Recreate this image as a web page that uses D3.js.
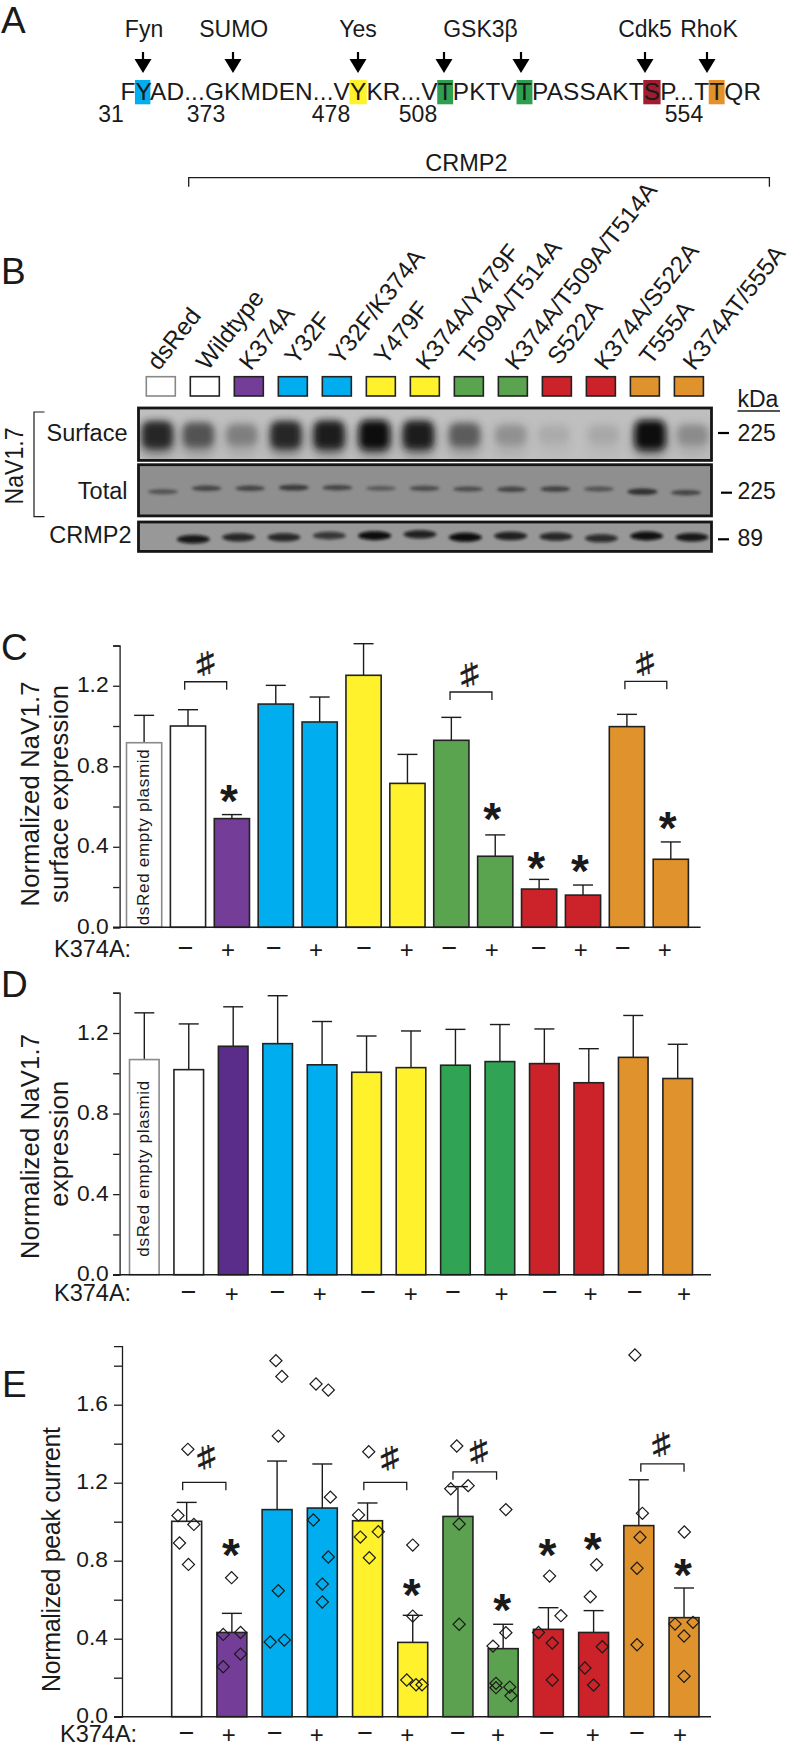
<!DOCTYPE html>
<html><head><meta charset="utf-8">
<script src="https://cdnjs.cloudflare.com/ajax/libs/d3/7.8.5/d3.min.js"></script>
<style>
html,body{margin:0;padding:0;background:#fff}
svg{display:block}
text{font-family:"Liberation Sans",Arial,sans-serif;fill:#1a1a1a}
</style></head><body>
<svg id="fig" width="793" height="1755" viewBox="0 0 793 1755"></svg>
<script>
// ---------- Data ----------
const constructLabels=["dsRed","Wildtype","K374A","Y32F","Y32F/K374A","Y479F","K374A/Y479F","T509A/T514A","K374A/T509A/T514A","S522A","K374A/S522A","T555A","K374AT/555A"];
const signs=["−","+","−","+","−","+","−","+","−","+","−","+"];
const swatchColors=["#fff","#fff","#743e98","#00aeef","#00aeef","#fff12b","#fff12b","#5ba44f","#5ba44f","#cc2229","#cc2229","#e0922c","#e0922c"];
const colorsC=["#fff","#fff","#743e98","#00aeef","#00aeef","#fff12b","#fff12b","#5ba44f","#5ba44f","#cc2229","#cc2229","#e0922c","#e0922c"];
const colorsD=["#fff","#fff","#5b2d8a","#00aeef","#00aeef","#fff12b","#fff12b","#31a354","#31a354","#cc2229","#cc2229","#e0922c","#e0922c"];
const colorsE=["#fff","#743e98","#00aeef","#00aeef","#fff12b","#fff12b","#5ba14f","#5ba14f","#cc2229","#cc2229","#e0922c","#e0922c"];

const valuesC=[0.917,1.0,0.54,1.109,1.02,1.252,0.715,0.929,0.353,0.19,0.16,0.997,0.338];
const errorsC=[1.053,1.081,0.56,1.202,1.144,1.409,0.859,1.043,0.459,0.238,0.21,1.058,0.424];
const valuesD=[1.068,1.018,1.134,1.147,1.042,1.005,1.028,1.04,1.058,1.048,0.953,1.079,0.974];
const errorsD=[1.30,1.245,1.33,1.385,1.257,1.185,1.21,1.218,1.242,1.22,1.122,1.287,1.144];
const valuesE=[1.002,0.432,1.062,1.07,1.005,0.381,1.027,0.349,0.448,0.432,0.98,0.508];
const errorsE=[1.099,0.53,1.311,1.296,1.096,0.52,1.18,0.474,0.559,0.544,1.215,0.66];

const pointValuesE=[
 [1.371,1.032,0.986,0.891,0.781],
 [0.713,0.422,0.432,0.321,0.256],
 [1.826,1.745,1.439,0.646,0.383,0.393],
 [1.706,1.675,1.126,1.009,0.819,0.680,0.588],
 [1.359,1.034,0.949,0.921,0.815],
 [0.880,0.516,0.188,0.164,0.164],
 [1.388,1.185,1.169,0.988,0.474],
 [1.062,0.431,0.362,0.171,0.149,0.152,0.108],
 [0.721,0.518,0.432,0.378,0.188],
 [0.779,0.615,0.359,0.25,0.162],
 [1.855,1.043,0.92,0.761,0.369],
 [0.947,0.475,0.484,0.414,0.207]];
const pointJitterE=[
 [.04,-.29,.24,-.24,.06],
 [-.01,-.29,.29,.29,-.29],
 [-.04,.16,.04,.04,-.23,.24],
 [-.21,.2,.27,-.3,.2,0,0],
 [.04,-.3,.36,-.24,.06],
 [0,0,-.2,.11,.31],
 [-.04,.34,-.24,.04,.04],
 [.09,.09,-.34,-.24,-.24,.22,.26],
 [.04,.42,-.33,.13,.13],
 [.1,-.11,.29,-.29,0],
 [-.13,.12,.04,-.06,-.06],
 [.01,-.3,.3,0,0]];

const starBarsC=[2,8,9,10,12], starValuesC=[.649,.563,.318,.305,.517];
const starBarsE=[1,5,7,8,9,11], starValuesE=[.851,.650,.573,.851,.885,.749];
const bracketBarsC=[1,7,11], bracketValuesC=[1.22,1.169,1.222], hashValuesC=[1.31,1.255,1.31];
const bracketBarsE=[0,4,6,10], bracketValuesE=[1.202,1.202,1.256,1.297], hashValuesE=[1.33,1.325,1.36,1.396];

const siteLabels=["Fyn","SUMO","Yes","GSK3β","Cdk5","RhoK"];
const sequence="FYAD...GKMDEN...VYKR...VTPKTVTPASSAKTSP...TTQR";
const highlightChars=[1,17,24,29,37,43];
const highlightColors=["#00aeef","#fff12b","#2e9e50","#2e9e50","#a01c2e","#e2912b"];
const residueNumbers=["31","373","478","508","554"];

const surfaceBands=[.85,.6,.35,.85,.92,1,.92,.55,.25,.1,.12,1,.28];
const totalBands=[.45,.55,.55,.62,.55,.4,.5,.5,.55,.58,.45,.7,.55];
const crmpBands=[0,.85,.75,.75,.65,.95,.8,.95,.8,.75,.72,.9,.85];
const surfaceDrift=[0,-3.6,-4.8,-5.3,-6.7,-6,-6.6,-5,-3.5,-5,0,2,0];
const totalDrift=[275,265,265,263,263,265,265,267,268,267,267,275,278];
const crmpDrift=[410,418,412,412,407,407,403,412,408,410,415,408,412];

// ---------- Helpers ----------
const svg=d3.select("#fig");
const ink="#1c1c1c";
function txt(g,x,y,s,size,anchor,extra){
  const t=g.append("text").attr("x",x).attr("y",y).attr("font-size",size).attr("text-anchor",anchor||"start").text(s);
  if(extra) extra(t); return t;
}
function rotTxt(g,x,y,s,size,len,adj){
  return g.append("text").attr("transform",`translate(${x},${y}) rotate(-90)`).attr("font-size",size).attr("text-anchor","middle")
    .attr("textLength",len).attr("lengthAdjust",adj||"spacing").text(s);
}
function line(g,x1,y1,x2,y2,w,c){
  return g.append("line").attr("x1",x1).attr("y1",y1).attr("x2",x2).attr("y2",y2).attr("stroke",c||ink).attr("stroke-width",w||1.3);
}
[["A",1,33],["B",1,284],["C",1,660],["D",1,997],["E",2,1397]].forEach(d=>txt(svg,d[1],d[2],d[0],37));

// ---------- Panel A ----------
const A=svg.append("g");
const siteX=[144,233.7,358,480.5,645,709];
siteLabels.forEach((s,i)=>txt(A,siteX[i],37,s,23,"middle"));
const arrowX=[143,233,358,444,521,645,707];
arrowX.forEach(x=>{
  line(A,x,52,x,62,2.2,"#000");
  A.append("path").attr("d",d3.line()([[x-8.5,59],[x+8.5,59],[x,73]])+"Z").attr("fill","#000");
});
const hiG=A.append("g");
const seq=txt(A,120.4,100,sequence,24.4).attr("textLength",640.6).attr("lengthAdjust","spacing");
highlightChars.forEach((c,i)=>{
  const e=seq.node().getExtentOfChar(c);
  hiG.append("rect").attr("x",e.x-.5).attr("width",e.width+1).attr("y",80).attr("height",24.3).attr("fill",highlightColors[i]);
});
[111,206,331,418,684].forEach((x,i)=>txt(A,x,121.7,residueNumbers[i],23,"middle"));
txt(A,466.4,170.7,"CRMP2",23.5,"middle");
A.append("path").attr("d","M188.7,186.7V177.7H769.4V186.7").attr("fill","none").attr("stroke",ink).attr("stroke-width",1.3);

// ---------- Panel B ----------
const B=svg.append("g");
const swatchX=d3.scalePoint().domain(d3.range(13)).range([160.8,688.9]);
const labelDx=[-2,3,2,3.3,4,5,2.6,1.6,4,2,5,6,5.5];
constructLabels.forEach((s,i)=>{
  const first=s[0];
  const yy=(first==="Y"||first==="T"||first==="S")?366:371.5;
  B.append("text").attr("transform",`translate(${swatchX(i)+labelDx[i]},${yy}) rotate(-52)`).attr("font-size",24.3).text(s);
  B.append("rect").attr("x",swatchX(i)-14.5).attr("y",376.7).attr("width",29).attr("height",19.3)
    .attr("fill",swatchColors[i]).attr("stroke",i===0?"#888":"#222").attr("stroke-width",1.6);
});
txt(B,737.5,406.5,"kDa",23);
line(B,737.5,411,780,411,1.4);

const defs=svg.append("defs");
[["blurL",3.6],["blurH",6],["blurS",1.5]].forEach(d=>defs.append("filter").attr("id",d[0]).attr("x","-50%").attr("y","-50%").attr("width","200%").attr("height","200%")
  .append("feGaussianBlur").attr("stdDeviation",d[1]));
function blot(id,y,h,bg){
  defs.append("clipPath").attr("id",id).append("rect").attr("x",138.5).attr("y",y).attr("width",573).attr("height",h);
  B.append("rect").attr("x",138.5).attr("y",y).attr("width",573).attr("height",h).attr("fill",bg);
  return B.append("g").attr("clip-path",`url(#${id})`);
}
function blotFrame(y,h){
  B.append("rect").attr("x",138.5).attr("y",y).attr("width",573).attr("height",h).attr("fill","none").attr("stroke","#161616").attr("stroke-width",2.8);
}
// surface
const laneS=d3.scalePoint().domain(d3.range(13)).range([157.3,692.7]);
const surfaceGray=d3.scaleLinear().domain([0,1]).range(["#bdbdbd","#0c0c0c"]);
let g=blot("cs",408,52.4,"#bfbfbf");
surfaceBands.forEach((d,i)=>{
  const cx=laneS(i)+surfaceDrift[i];
  g.append("rect").attr("x",cx-16).attr("width",32).attr("y",424).attr("height",32).attr("rx",8).attr("fill","#000").attr("opacity",d*.36).attr("filter","url(#blurH)");
  const h=16+13*d;
  g.append("rect").attr("x",cx-15).attr("width",30).attr("y",435-h/2).attr("height",h).attr("rx",7).attr("fill",surfaceGray(d)).attr("filter","url(#blurL)");
});
blotFrame(408,52.4);
// total
const laneT=d3.scalePoint().domain(d3.range(13)).range([163,686]);
g=blot("ct",464.7,51.2,"#8f8f8f");
totalBands.forEach((d,i)=>{
  g.append("ellipse").attr("cx",laneT(i)).attr("cy",400+totalDrift[i]/3).attr("rx",15).attr("ry",1.2+d*2.8).attr("fill","#1a1a1a").attr("opacity",d*1.2).attr("filter","url(#blurS)");
});
blotFrame(464.7,51.2);
// crmp2
const laneC=d3.scalePoint().domain(d3.range(13)).range([148,692]);
g=blot("cc",522,29.4,"#989898");
crmpBands.forEach((d,i)=>{
  if(!d) return;
  g.append("ellipse").attr("cx",laneC(i)).attr("cy",400+crmpDrift[i]/3).attr("rx",16.5).attr("ry",2.4+d*2.2).attr("fill","#0a0a0a").attr("opacity",Math.min(1,d*1.08)).attr("filter","url(#blurS)");
});
blotFrame(522,29.4);

rotTxt(B,22.5,466,"NaV1.7",26,77,"spacingAndGlyphs");
B.append("path").attr("d","M44.5,412H34V516.7H44.5").attr("fill","none").attr("stroke",ink).attr("stroke-width",1.2);
txt(B,127.5,440.7,"Surface",23.5,"end");
txt(B,127.5,499.3,"Total",23.5,"end");
txt(B,131.5,542.7,"CRMP2",23.5,"end");
[[718,729,433,737.5,440.7,"225"],[721,732,492.7,737.5,499.3,"225"],[718,729,539.3,737.5,546,"89"]].forEach(d=>{
  line(B,d[0],d[2],d[1],d[2],2.2,"#000");
  txt(B,d[3],d[4],d[5],23);
});

// ---------- Bar panels ----------
function panel(o){
  const G=svg.append("g");
  const x=d3.scaleBand().domain(d3.range(o.values.length)).range(o.xr).paddingInner(o.pad).paddingOuter(0);
  const y=d3.scaleLinear().domain([0,o.top]).range(o.yr);
  const cx=i=>x(i)+x.bandwidth()/2;
  o.values.forEach((v,i)=>{
    line(G,cx(i),y(v),cx(i),y(o.errors[i]),1.4);
    line(G,cx(i)-10,y(o.errors[i]),cx(i)+10,y(o.errors[i]),1.4);
  });
  G.selectAll("rect.bar").data(o.values).join("rect").attr("class","bar")
    .attr("x",(d,i)=>x(i)).attr("width",x.bandwidth())
    .attr("y",d=>y(d)).attr("height",d=>y(0)-y(d))
    .attr("fill",(d,i)=>o.colors[i])
    .attr("stroke",(d,i)=>(o.dsRed&&i===0)?"#8a8a8a":"#222").attr("stroke-width",1.6);
  const ax=d3.axisLeft(y).tickValues(o.ticks).tickSize(o.tickLen).tickPadding(o.tickPad).tickFormat(d=>(Math.round(d*10)%4===0)?d.toFixed(1):"");
  const axG=G.append("g").attr("transform",`translate(${o.axisX},0)`).call(ax);
  axG.selectAll("path,line").attr("stroke",ink).attr("stroke-width",1.3);
  axG.selectAll("text").attr("font-size",22.8).attr("dy","0.27em").attr("fill","#1a1a1a").attr("font-family",'"Liberation Sans",Arial,sans-serif');
  line(G,o.axisX-o.tickLen,y(0),o.baseEnd,y(0),1.5);
  txt(G,o.rowLabelX,o.rowY+6,"K374A:",23.5);
  const offset=o.dsRed?1:0;
  signs.forEach((s,i)=>{
    G.append("text").attr("x",cx(i+offset)+o.signDx[i]).attr("y",o.rowY+(s==="+"?7:6)).attr("text-anchor","middle")
      .attr("font-size",s==="+"?24:27).text(s);
  });
  if(o.dsRed) G.append("text").attr("transform",`translate(${cx(0)+4.5},${y(0)-o.dsRedLift}) rotate(-90)`).attr("font-size",17)
    .attr("textLength",176).attr("lengthAdjust","spacing").text("dsRed empty plasmid");
  (o.starBars||[]).forEach((b,i)=>{
    G.append("text").attr("x",cx(b)+o.starDx).attr("y",y(o.starValues[i])).attr("dy","0.45em").attr("text-anchor","middle")
      .attr("font-size",46).attr("font-weight","bold").attr("fill","#000").text("*");
  });
  (o.bracketBars||[]).forEach((b,i)=>{
    const x0=cx(b)+o.bracketDx[i][0], x1=cx(b+1)+o.bracketDx[i][1], yy=y(o.bracketValues[i]);
    G.append("path").attr("d",d3.line()([[x0,yy+8],[x0,yy],[x1,yy],[x1,yy+8]])).attr("fill","none").attr("stroke",ink).attr("stroke-width",1.3);
    G.append("text").attr("transform",`translate(${(x0+x1)/2+o.hashDx[i]},${y(o.hashValues[i])}) rotate(85) scale(1.7,-1)`)
      .attr("dy","0.35em").attr("text-anchor","middle").attr("font-size",25).attr("stroke","#1a1a1a").attr("stroke-width",.5).text("#");
  });
  return {G,x,y,cx};
}
const ticks7=d3.range(0,1.41,.2), ticks9=d3.range(0,1.81,.2);
panel({values:valuesC,errors:errorsC,colors:colorsC,top:1.4,yr:[927.3,645.5],xr:[126.5,688.4],pad:.198,axisX:119.6,baseEnd:700.6,ticks:ticks7,tickLen:6.5,tickPad:4.5,dsRed:true,dsRedLift:2,
  rowLabelX:54,rowY:951,signDx:[-2.3,-3.8,-2,-3.6,.5,-.7,-2,-3.4,-.3,-2.3,-4,-6],
  starBars:starBarsC,starValues:starValuesC,starDx:-3,
  bracketBars:bracketBarsC,bracketValues:bracketValuesC,hashValues:hashValuesC,bracketDx:[[-3.3,-5.2],[-1.3,-3.3],[-2,-4]],hashDx:[-.5,-1.7,-1]});
panel({values:valuesD,errors:errorsD,colors:colorsD,top:1.4,yr:[1274.7,992.7],xr:[129.5,692.5],pad:.334,axisX:119.6,baseEnd:711,ticks:ticks7,tickLen:6.5,tickPad:4.5,dsRed:true,dsRedLift:18,
  rowLabelX:54,rowY:1295,signDx:[0,-1.4,0,-2.3,1.7,-.2,-2.2,1.5,5.5,1.6,1.6,6.3]});
const E=panel({values:valuesE,errors:errorsE,colors:colorsE,top:1.9,yr:[1716.7,1346.2],xr:[171.7,699],pad:.338,axisX:122,baseEnd:711,ticks:ticks9,tickLen:8,tickPad:6,dsRed:false,
  rowLabelX:60,rowY:1735.7,signDx:[0,-3,-2.3,-5.6,-2.3,-5.6,0,-5.2,-1.5,-.8,-1.8,-4.1],
  starBars:starBarsE,starValues:starValuesE,starDx:-1,
  bracketBars:bracketBarsE,bracketValues:bracketValuesE,hashValues:hashValuesE,bracketDx:[[-4,-6],[-3.7,-6],[-5,-6.6],[2,0]],hashDx:[1.7,4.2,3.8,-1.3]});
const sq=d3.symbol().type(d3.symbolSquare).size(74)();
pointValuesE.forEach((arr,b)=>arr.forEach((v,k)=>{
  E.G.append("path").attr("d",sq)
    .attr("transform",`translate(${E.cx(b)+pointJitterE[b][k]*E.x.bandwidth()},${E.y(v)}) rotate(45)`)
    .attr("fill","none").attr("stroke","#1a1a1a").attr("stroke-width",1.2);
}));

// ---------- Axis titles ----------
rotTxt(svg,39.3,794,"Normalized NaV1.7",25.5,225);
rotTxt(svg,68.3,794,"surface expression",25.5,218);
rotTxt(svg,39.3,1146.5,"Normalized NaV1.7",25.5,225);
rotTxt(svg,68.3,1143.7,"expression",25.5,126);
rotTxt(svg,60,1559.5,"Normalized peak current",25,265);
</script>
</body></html>
